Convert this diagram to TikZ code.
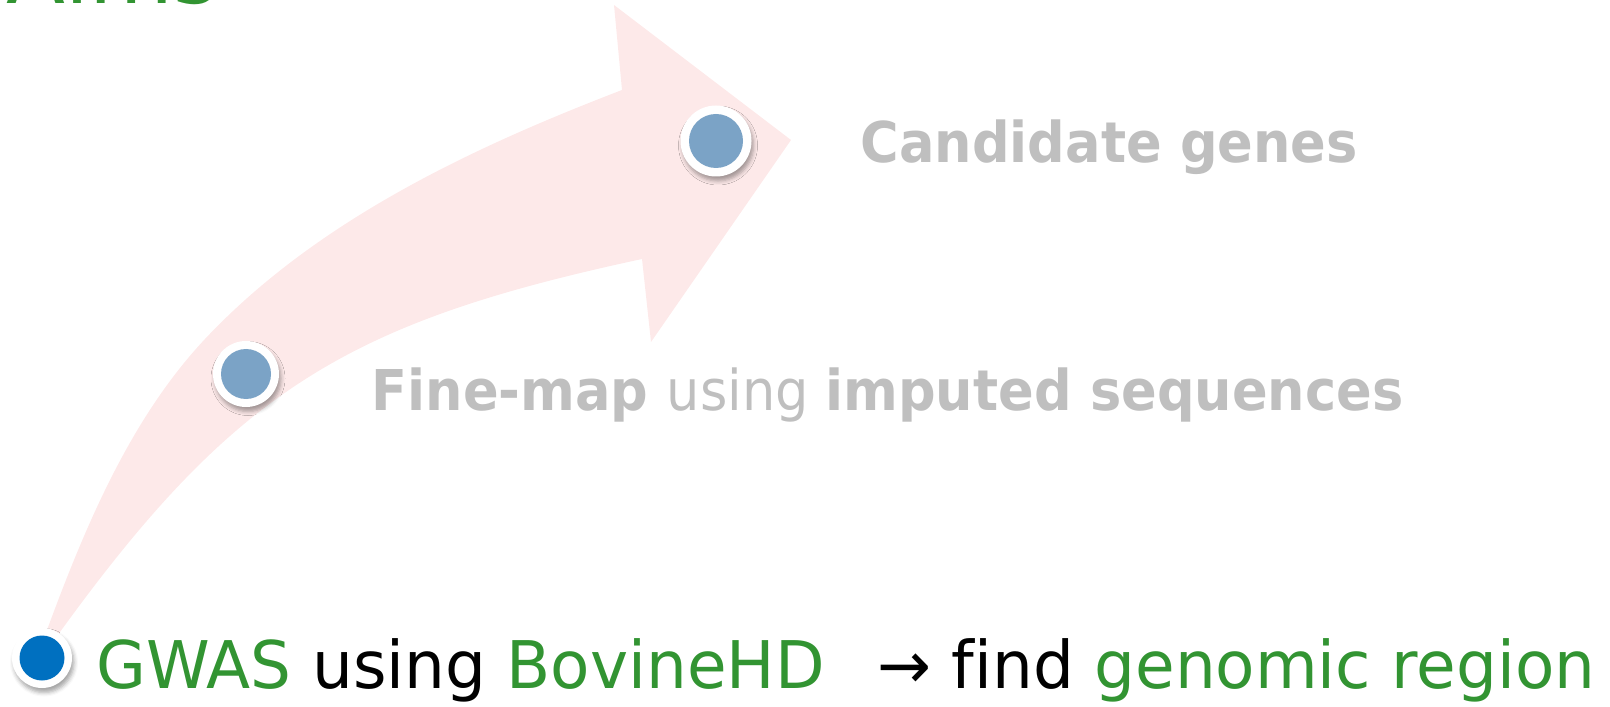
\documentclass[tikz,border=0pt]{standalone}
\usepackage{fontspec}
\usepackage{tikz}
\usetikzlibrary{shadows.blur}
\usepackage{xcolor}
\newfontfamily\stepfont[FakeStretch=0.935]{DejaVu Sans}
\newfontfamily\gwasfont[FakeStretch=0.98, Ligatures=NoCommon]{DejaVu Sans}
\definecolor{arrowpink}{RGB}{253,233,233}
\definecolor{dotfaded}{RGB}{123,163,198}
\definecolor{dotblue}{RGB}{0,112,192}
\definecolor{stepgray}{RGB}{191,191,191}
\definecolor{aimgreen}{RGB}{50,148,50}
\newcommand{\hl}[1]{\textcolor{aimgreen}{#1}}
\tikzset{
  dot/.style n args={3}{circle, inner sep=0pt, minimum size=#1, fill=white,
                        blur shadow={shadow xshift=0.2mm, shadow yshift=-0.45mm,
                          shadow blur radius=0.4mm, shadow opacity=35},
                        path picture={\fill[#3] (path picture bounding box.center)
                          circle (#2);}},
  steplbl/.style={anchor=base west, inner sep=0pt, text=stepgray,
                  font=\stepfont\fontsize{16pt}{19pt}\selectfont},
  gwaslbl/.style={anchor=base west, inner sep=0pt,
                  font=\gwasfont\fontsize{18.7pt}{22pt}\selectfont},
  ttl/.style    ={anchor=base west, inner sep=0pt, text=aimgreen,
                  font=\gwasfont\fontsize{25pt}{29pt}\selectfont},
}
\begin{document}
\begin{tikzpicture}[x=0.1mm, y=-0.1mm]
  \useasboundingbox (0,0) rectangle (1610,707);
  \clip (0,0) rectangle (1610,707);

  % slide title, mostly above the frame
  \node[ttl] (aims) at (6,4) {Aims};

  % the big curved arrow behind the steps
  \fill[arrowpink] (50,650) -- (47,630)
    .. controls (85,527) and (130,419) .. (205,339)
    .. controls (316,221) and (471,148) .. (622,90)
    -- (614,5) -- (791,140) -- (651,342) -- (642,259)
    .. controls (349,322) and (236,389) .. (60,632)
    -- (56,650) -- cycle;

  % step markers
  \node[dot={6mm}{2.25mm}{dotblue}]    (dotgwas) at (42,658) {};
  \node[dot={6.6mm}{2.5mm}{dotfaded}]  (dotfine) at (246,374) {};
  \node[dot={7.1mm}{2.7mm}{dotfaded}]  (dotcand) at (716,141) {};

  % step texts
  \node[steplbl] (cand) at (860,163) {\bfseries Candidate genes};
  \node[steplbl] (fine) at (371,410)
    {\bfseries Fine-map \mdseries using \bfseries imputed sequences};
  \node[gwaslbl] (gwas) at (96,688)
    {\hl{GWAS} using \hl{BovineHD}\hspace{0.8em}→ find \hl{genomic region}};
\end{tikzpicture}
\end{document}
